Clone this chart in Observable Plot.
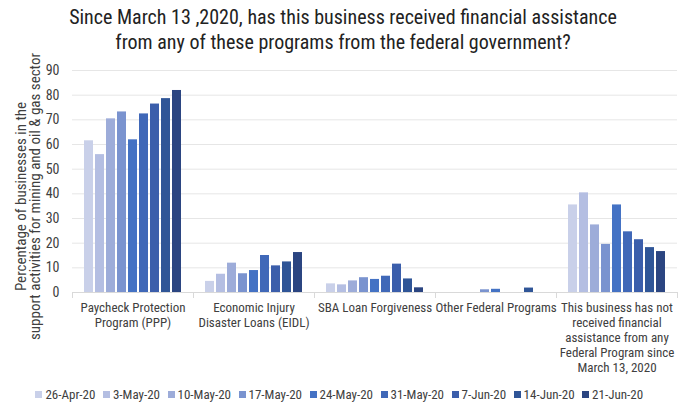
<!DOCTYPE html>
<html>
<head>
<meta charset="utf-8">
<script src="https://cdn.jsdelivr.net/npm/d3@7"></script>
<script src="https://cdn.jsdelivr.net/npm/@observablehq/plot@0.6"></script>
<style>
  body { margin: 0; background: #fff; width: 686px; height: 405px; overflow: hidden;
         font-family: 'Roboto Condensed', 'Liberation Sans Narrow', 'DejaVu Sans Condensed', Roboto, sans-serif; }
  #title { text-align: center; font-size: 20px; line-height: 25px; color: #222; height: 58px; padding-top: 5px; box-sizing: border-box; }
  #chart svg { display: block; overflow: visible; }
  .lg-swatches { justify-content: center; }
  .lg-swatch { margin-right: 7.5px !important; color: #404040; }
  .lg-swatch svg { margin-right: 3px !important; }
</style>
</head>
<body>
<div id="title">Since March 13 ,2020, has this business received financial assistance<br>from any of these programs from the federal government?</div>
<div id="chart"></div>
<div id="legend"></div>
<script>
const categories = [
  "Paycheck Protection Program (PPP)",
  "Economic Injury Disaster Loans (EIDL)",
  "SBA Loan Forgiveness",
  "Other Federal Programs",
  "This business has not received financial assistance from any Federal Program since March 13, 2020"
];
const categoryLabels = [
  "Paycheck Protection\nProgram (PPP)",
  "Economic Injury\nDisaster Loans (EIDL)",
  "SBA Loan Forgiveness",
  "Other Federal Programs",
  "This business has not\nreceived financial\nassistance from any\nFederal Program since\nMarch 13, 2020"
];
const dates = ["26-Apr-20","3-May-20","10-May-20","17-May-20","24-May-20","31-May-20","7-Jun-20","14-Jun-20","21-Jun-20"];
const colors = ["#c9d0e9","#b4bee2","#9dacd9","#7a93cf","#4472c4","#4068b8","#3b5eab","#2f5597","#2b4581"];

const ppp   = [61.5, 55.9, 70.4, 73.2, 61.9, 72.4, 76.4, 78.6, 81.9];
const eidl  = [4.5, 7.4, 11.9, 7.6, 8.9, 15.0, 10.8, 12.4, 16.2];
const sba   = [3.5, 3.1, 4.7, 6.0, 5.3, 6.6, 11.5, 5.5, 1.9];
const other = [0, 0, 0, 1.1, 1.3, 0, 0, 1.8, 0];
const none  = [35.5, 40.4, 27.4, 19.5, 35.5, 24.6, 21.4, 18.2, 16.6];
const seriesByCategory = [ppp, eidl, sba, other, none];

const yTicks = [0,10,20,30,40,50,60,70,80,90];
const yLabel = "Percentage of businesses in the\nsupport activities for mining and oil & gas sector";

const rows = [];
categories.forEach((c, i) => dates.forEach((d, j) => rows.push({category: c, date: d, value: seriesByCategory[i][j]})));

const font = "'Roboto Condensed','Liberation Sans Narrow','DejaVu Sans Condensed',Roboto,sans-serif";

const chart = Plot.plot({
  width: 686,
  height: 320,
  marginTop: 12,
  marginBottom: 86,
  marginLeft: 71,
  marginRight: 9,
  style: {fontFamily: font, color: "#404040", background: "#fff", overflow: "visible"},
  fx: {domain: categories, padding: 0, axis: null},
  x: {domain: dates, axis: null, paddingInner: 0.2, paddingOuter: 0.83},
  y: {domain: [0, 90], axis: null},
  color: {domain: dates, range: colors},
  marks: [
    Plot.gridY(yTicks, {stroke: "#e6e6e6", strokeOpacity: 1}),
    Plot.ruleY([0], {stroke: "#d9d9d9"}),
    Plot.frame({anchor: "left", stroke: "#d9d9d9", insetTop: 222, insetBottom: -5}),
    Plot.frame({anchor: "right", stroke: "#d9d9d9", insetTop: 222, insetBottom: -5}),
    Plot.barY(rows, {fx: "category", x: "date", y: "value", fill: "date"}),
    Plot.axisY(yTicks, {tickSize: 0, tickPadding: 13, fontSize: 14, label: null, fill: "#404040"}),
    Plot.axisFx({anchor: "bottom", tickSize: 0, tickPadding: 9, fontSize: 13, lineHeight: 1.15, label: null,
                 tickFormat: d => categoryLabels[categories.indexOf(d)], fill: "#404040"}),
    Plot.text([yLabel], {text: d => d, frameAnchor: "left", textAnchor: "middle", rotate: -90, dx: -44, dy: 15,
                         facet: "super", fontSize: 15, lineHeight: 0.92, fill: "#404040"})
  ]
});
document.getElementById("chart").appendChild(chart);

const legend = Plot.legend({
  color: {type: "ordinal", domain: dates, range: colors},
  legend: "swatches",
  swatchSize: 7,
  className: "lg",
  style: {fontFamily: font, fontSize: "13px", width: "686px", marginTop: "0px"}
});
document.getElementById("legend").appendChild(legend);
</script>
</body>
</html>
